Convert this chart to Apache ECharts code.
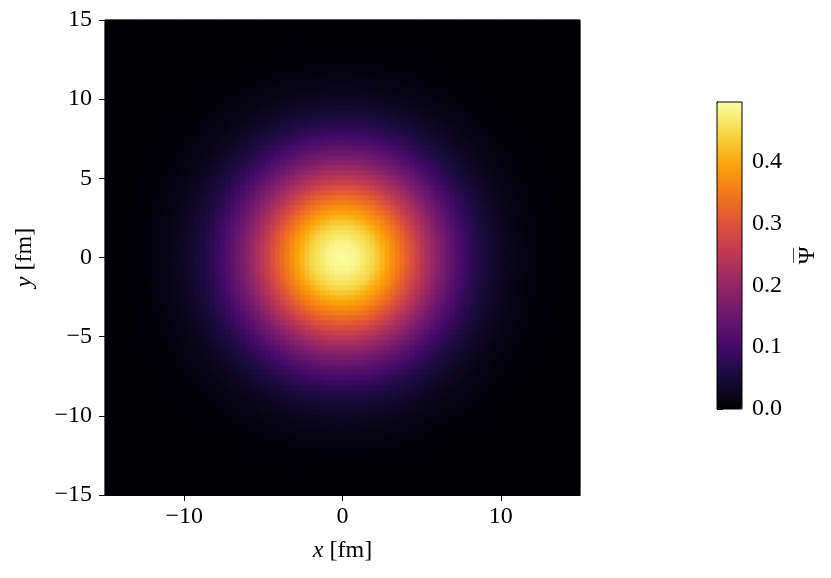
<!DOCTYPE html>
<html>
<head>
<meta charset="utf-8">
<script src="https://cdn.jsdelivr.net/npm/echarts@6/dist/echarts.min.js"></script>
<style>
  html, body { margin: 0; padding: 0; background: #fff; }
  #chart { width: 831px; height: 578px; }
</style>
</head>
<body>
<div id="chart"></div>
<script>
// radial profile of Psi-bar (r in fm)
const radiusFm = [0, 1, 2, 3, 4, 5, 6, 7, 8, 9, 10, 11, 12, 13, 14, 15, 16, 22];
const psiAtRadius = [0.495, 0.48, 0.445, 0.385, 0.32, 0.25, 0.185, 0.13, 0.085, 0.053, 0.031, 0.017, 0.009, 0.004, 0.002, 0.001, 0, 0];
const xTicks = [-10, 0, 10];
const yTicks = [-15, -10, -5, 0, 5, 10, 15];
const cbTicks = [0, 0.1, 0.2, 0.3, 0.4];
const psiMax = 0.496;
const inferno = ['#000004', '#160b39', '#420a68', '#6a176e', '#932667', '#bc3754',
  '#dd513a', '#f37819', '#fca50a', '#f6d746', '#fcffa4'];

const N = 95;
const lo = -15, hi = 15;
const step = (hi - lo) / N;
const font = 'Liberation Serif';

function profileAt(r) {
  for (let k = 1; k < radiusFm.length; k++) {
    if (r <= radiusFm[k]) {
      const t = (r - radiusFm[k - 1]) / (radiusFm[k] - radiusFm[k - 1]);
      return psiAtRadius[k - 1] + t * (psiAtRadius[k] - psiAtRadius[k - 1]);
    }
  }
  return 0;
}

const cells = [];
const idx = [];
for (let i = 0; i < N; i++) idx.push(i);
for (let i = 0; i < N; i++) {
  const x = lo + (i + 0.5) * step;
  for (let j = 0; j < N; j++) {
    const y = lo + (j + 0.5) * step;
    cells.push([i, j, profileAt(Math.sqrt(x * x + y * y))]);
  }
}

const minus = v => (v < 0 ? '\u2212' + Math.abs(v) : String(v));
const labelStyle = { color: '#000', fontFamily: font, fontSize: 24 };
const italic = { fontStyle: 'italic', fontFamily: font, fontSize: 24, color: '#000' };

const chart = echarts.init(document.getElementById('chart'));
chart.setOption({
  animation: false,
  backgroundColor: '#fff',
  grid: [
    { left: 105, top: 20, width: 475, height: 475, show: true,
      borderColor: '#000', borderWidth: 1, backgroundColor: 'transparent', z: 10 },
    { left: 717, top: 102, width: 25, height: 307, show: true,
      borderColor: '#000', borderWidth: 1, backgroundColor: 'transparent', z: 10 }
  ],
  xAxis: [
    { type: 'category', gridIndex: 0, data: idx, show: false },
    { type: 'value', gridIndex: 0, min: lo, max: hi, position: 'bottom',
      axisLine: { show: true, lineStyle: { color: '#000', width: 1 } },
      axisTick: { show: true, length: 6, customValues: xTicks, lineStyle: { color: '#000' } },
      axisLabel: Object.assign({ customValues: xTicks, margin: 10, formatter: minus }, labelStyle),
      splitLine: { show: false },
      name: '{i|x} [fm]', nameLocation: 'middle', nameGap: 44,
      nameTextStyle: Object.assign({ rich: { i: italic } }, labelStyle) },
    { type: 'value', gridIndex: 1, min: 0, max: 1, show: false }
  ],
  yAxis: [
    { type: 'category', gridIndex: 0, data: idx, show: false },
    { type: 'value', gridIndex: 0, min: lo, max: hi, interval: 5, position: 'left',
      axisLine: { show: true, lineStyle: { color: '#000', width: 1 } },
      axisTick: { show: true, length: 6, lineStyle: { color: '#000' } },
      axisLabel: Object.assign({ margin: 13, formatter: minus }, labelStyle),
      splitLine: { show: false },
      name: '{i|y} [fm]', nameLocation: 'middle', nameGap: 68,
      nameTextStyle: Object.assign({ rich: { i: italic } }, labelStyle) },
    { type: 'value', gridIndex: 1, min: 0, max: psiMax, position: 'right',
      axisLine: { show: true, lineStyle: { color: '#000', width: 1 } },
      axisTick: { show: true, length: 6, customValues: cbTicks, lineStyle: { color: '#000' } },
      axisLabel: Object.assign({ customValues: cbTicks, margin: 10, formatter: v => v.toFixed(1) }, labelStyle),
      splitLine: { show: false },
      name: '{o|\u2014}\n{p|\u03A8}', nameLocation: 'middle', nameGap: 46,
      nameTextStyle: {
        color: '#000', fontFamily: font, fontSize: 24,
        rich: {
          o: { fontFamily: font, fontSize: 15, lineHeight: 6, color: '#000' },
          p: { fontFamily: font, fontSize: 24, lineHeight: 22, color: '#000' }
        }
      } }
  ],
  visualMap: {
    type: 'continuous',
    min: 0,
    max: psiMax,
    seriesIndex: 0,
    calculable: false,
    orient: 'vertical',
    left: 717,
    top: 102,
    padding: 0,
    itemWidth: 25,
    itemHeight: 307,
    text: null,
    inRange: { color: inferno },
    z: 2
  },
  series: [{
    type: 'heatmap',
    xAxisIndex: 0,
    yAxisIndex: 0,
    data: cells,
    progressive: 0,
    itemStyle: { borderWidth: 0 },
    emphasis: { disabled: true }
  }]
});
</script>
</body>
</html>
